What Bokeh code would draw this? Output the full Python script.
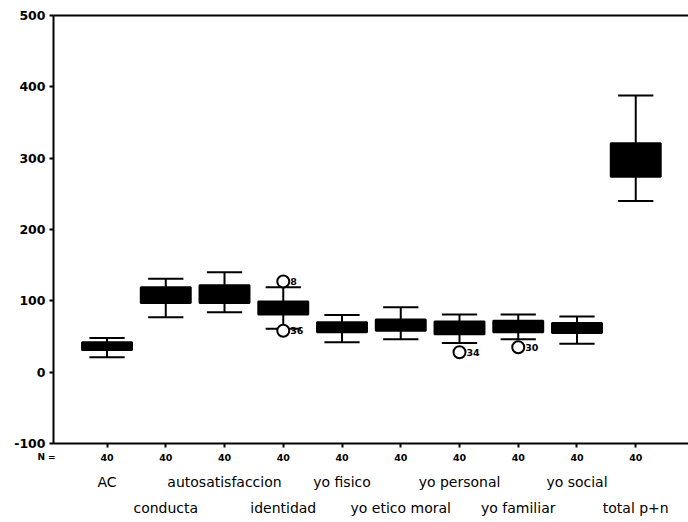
from bokeh.plotting import figure
from bokeh.models import LinearAxis, FixedTicker, Range1d, Label, ColumnDataSource
from bokeh.core.properties import value
from bokeh.embed import file_html
from bokeh.resources import INLINE

# ---- data ----
categories = ["AC", "conducta", "autosatisfaccion", "identidad", "yo fisico",
              "yo etico moral", "yo personal", "yo familiar", "yo social", "total p+n"]
n_counts = [40, 40, 40, 40, 40, 40, 40, 40, 40, 40]
whisker_low = [21, 77, 84, 61, 42, 46, 41, 46, 40, 240]
q1 = [31, 97, 97, 81, 56, 58, 53, 56, 55, 274]
median = [36, 108, 110, 90, 63, 66, 62, 64, 62, 295]
q3 = [42, 119, 122, 99, 70, 74, 71, 72, 69, 321]
whisker_high = [48, 131, 140, 119, 80, 91, 81, 81, 78, 388]
outlier_cat = [3, 3, 6, 7]
outlier_val = [127, 58, 28, 35]
outlier_lbl = ["8", "36", "34", "30"]
y_ticks = [-100, 0, 100, 200, 300, 400, 500]
y_min, y_max = -100, 500

xs = list(range(len(categories)))
BOX_W = 0.85
CAP_W = 0.6
X_LO, X_HI = -0.911, 9.898          # extent of the plotted axes (category units)

p = figure(width=688, height=522, output_backend="svg", toolbar_location=None,
           x_range=Range1d(-1.643, X_HI), y_range=Range1d(-130.84, 514.0),
           min_border_left=10, min_border_right=0, min_border_top=5, min_border_bottom=57)
p.grid.visible = False
p.outline_line_color = None
p.background_fill_color = "white"
p.border_fill_color = "white"

src = ColumnDataSource(dict(x=xs, lo=whisker_low, q1=q1, med=median, q3=q3, hi=whisker_high,
                            cl=[x - CAP_W / 2 for x in xs], cr=[x + CAP_W / 2 for x in xs],
                            bl=[x - BOX_W / 2 for x in xs], br=[x + BOX_W / 2 for x in xs]))

# whiskers
p.segment(x0="x", y0="lo", x1="x", y1="q1", source=src, line_color="black", line_width=2)
p.segment(x0="x", y0="q3", x1="x", y1="hi", source=src, line_color="black", line_width=2)
p.segment(x0="cl", y0="lo", x1="cr", y1="lo", source=src, line_color="black", line_width=2)
p.segment(x0="cl", y0="hi", x1="cr", y1="hi", source=src, line_color="black", line_width=2)
# boxes
p.vbar(x="x", width=BOX_W, bottom="q1", top="q3", source=src,
       fill_color="black", line_color="black", line_width=2)
p.segment(x0="bl", y0="med", x1="br", y1="med", source=src, line_color="black", line_width=2)

# outliers
osrc = ColumnDataSource(dict(x=outlier_cat, y=outlier_val, t=outlier_lbl))
p.scatter(x="x", y="y", source=osrc, marker="circle", size=12,
          fill_color="white", line_color="black", line_width=2)
p.text(x="x", y="y", text="t", source=osrc, x_offset=7, text_baseline="middle",
       text_font=value("DejaVu Sans"), text_font_style="bold", text_font_size="9.5px",
       text_color="black")

# y axis, fixed at the left end of the plotted extent
ya = p.yaxis[0]
ya.fixed_location = X_LO
ya.bounds = (y_min, y_max)
ya.ticker = FixedTicker(ticks=y_ticks)
ya.major_label_overrides = {t: str(t) for t in y_ticks}
ya.axis_line_width = 2
ya.major_tick_out = 4
ya.major_tick_in = 0
ya.major_tick_line_width = 2
ya.minor_tick_line_color = None
ya.major_label_standoff = 4
ya.major_label_text_font = "DejaVu Sans"
ya.major_label_text_font_style = "bold"
ya.major_label_text_font_size = "12.5px"
ya.major_label_text_color = "black"

# bottom axis (N row), fixed at y_min
xa = p.xaxis[0]
xa.fixed_location = y_min
xa.bounds = (X_LO, X_HI)
xa.ticker = FixedTicker(ticks=xs)
xa.major_label_overrides = {i: str(n) for i, n in zip(xs, n_counts)}
xa.axis_line_width = 2
xa.major_tick_out = 4
xa.major_tick_in = 0
xa.major_tick_line_width = 2
xa.minor_tick_line_color = None
xa.major_label_standoff = 6
xa.major_label_text_font = "DejaVu Sans"
xa.major_label_text_font_style = "bold"
xa.major_label_text_font_size = "9.5px"
xa.major_label_text_color = "black"

# top border line at y_max
top = LinearAxis(ticker=FixedTicker(ticks=[]), fixed_location=y_max, bounds=(X_LO, X_HI))
top.axis_line_width = 2
top.major_tick_line_color = None
top.minor_tick_line_color = None
top.major_label_text_font_size = "0px"
p.add_layout(top, "above")


def cat_axis(ticks, standoff):
    ax = LinearAxis(ticker=FixedTicker(ticks=ticks),
                    major_label_overrides={i: categories[i] for i in ticks})
    ax.axis_line_color = None
    ax.major_tick_line_color = None
    ax.minor_tick_line_color = None
    ax.major_tick_out = 0
    ax.major_tick_in = 0
    ax.major_label_standoff = standoff
    ax.major_label_text_font = "DejaVu Sans"
    ax.major_label_text_font_size = "14px"
    ax.major_label_text_color = "black"
    return ax


p.add_layout(cat_axis(xs[0::2], 8), "below")
p.add_layout(cat_axis(xs[1::2], 7), "below")

# "N =" caption of the count row
p.add_layout(Label(x=-1.03, y=-119, text="N =", text_align="center", text_baseline="middle",
                   text_font="DejaVu Sans", text_font_style="bold", text_font_size="9px",
                   text_color="black"))

open("out.html", "w").write(file_html(p, INLINE))
